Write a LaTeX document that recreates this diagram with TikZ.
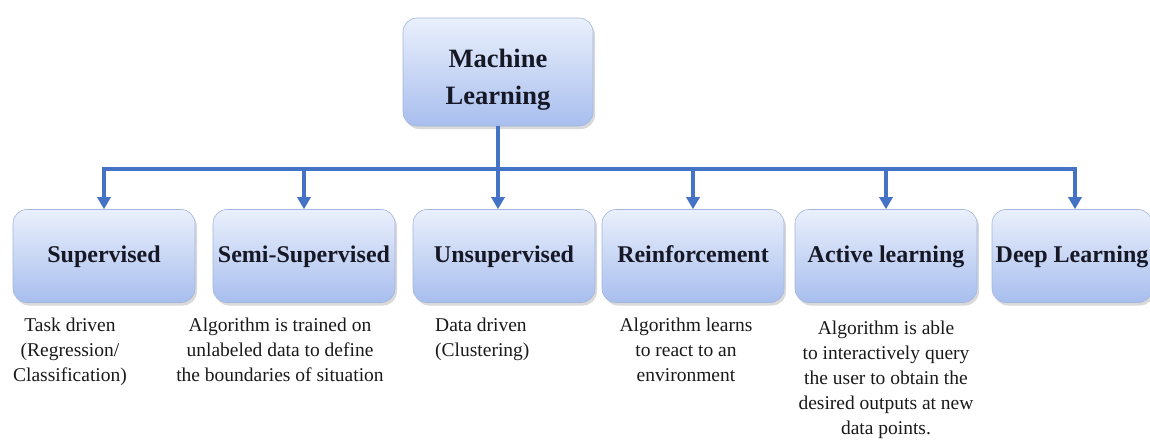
\documentclass[tikz,border=0pt]{standalone}
\usepackage{fontspec}
\setmainfont{Liberation Serif}
\usetikzlibrary{arrows.meta,positioning,shadows}
\definecolor{linkblue}{RGB}{68,114,196}
\definecolor{boxtop}{RGB}{234,240,252}
\definecolor{boxbot}{RGB}{168,190,238}
\definecolor{labelink}{RGB}{22,24,38}

\begin{document}
\begin{tikzpicture}[x=1pt,y=1pt,
		catbox/.style={draw=boxbot!85!gray, line width=0.6pt, rounded corners=14pt,
			top color=boxtop, bottom color=boxbot,
			minimum width=182pt, minimum height=93pt,
			text height=17pt, text depth=5pt,
			font=\fontsize{24}{28}\selectfont\bfseries, text=labelink,
			drop shadow={shadow xshift=2pt, shadow yshift=-3pt, opacity=0.3}},
		mlbox/.style={draw=boxbot!85!gray, line width=0.6pt, rounded corners=14pt,
			top color=boxtop, bottom color=boxbot, text=labelink,
			minimum width=190pt, minimum height=108pt, align=center,
			font=\fontsize{26.5}{37}\selectfont\bfseries,
			drop shadow={shadow xshift=2pt, shadow yshift=-3pt, opacity=0.3}},
		note/.style={inner sep=0pt, align=center, font=\fontsize{19.5}{25}\selectfont, text=black!90},
		link/.style={draw=linkblue, line width=4pt},
		arrow/.style={link, -{Triangle[width=13pt,length=12pt]}}]
	\useasboundingbox (0,0) rectangle (1150,-439);

	\node[mlbox] (ml) at (498,-72) {\rule{0pt}{34pt}Machine\\Learning};

	\node[catbox] (sup) at (104,-256) {Supervised};
	\node[catbox] (semi) at (304,-256) {Semi-Supervised};
	\node[catbox] (unsup) at (504,-256) {Unsupervised};
	\node[catbox] (reinf) at (693,-256) {Reinforcement};
	\node[catbox] (active) at (886,-256) {Active learning};
	\node[catbox, minimum width=160pt] (deep) at (1072,-256) {Deep Learning};

	\coordinate (bus) at (498,-169);
	\draw[arrow] (ml) -- (ml |- unsup.north);
	\draw[arrow] (bus) -| (sup);
	\draw[arrow] (bus) -| (semi);
	\draw[arrow] (bus) -| (reinf);
	\draw[arrow] (bus) -| (active);
	\draw[arrow] (bus) -| ([xshift=3pt]deep.north);

	\node[note, anchor=north] (supnote) at (70,-318) {Task driven\\(Regression/\\Classification)};
	\node[note, anchor=north] (seminote) at (280,-318) {Algorithm is trained on\\unlabeled data to define\\the boundaries of situation};
	\node[note, anchor=north west, align=left] (unsupnote) at (435,-318) {Data driven\\(Clustering)};
	\node[note, anchor=north] (reinfnote) at (686,-318) {Algorithm learns\\to react to an\\environment};
	\node[note, anchor=north] (activenote) at (886,-321) {Algorithm is able\\to interactively query\\the user to obtain the\\desired outputs at new\\data points.};
\end{tikzpicture}
\end{document}
